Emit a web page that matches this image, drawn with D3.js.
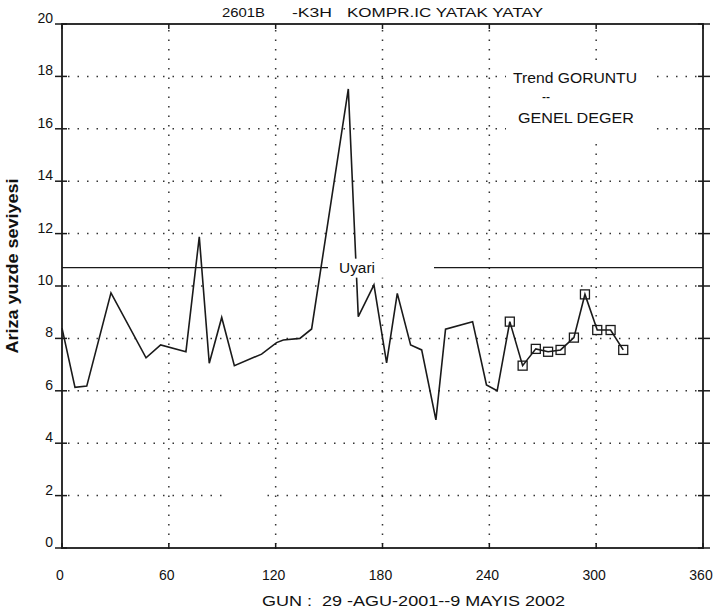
<!DOCTYPE html>
<html>
  <head>
    <title>Trend GORUNTU</title>
    <script src="https://d3js.org/d3.v7.min.js"></script>
    <style>
      body { margin: 0; background: #fff; }
      text { font-family: "Liberation Sans", Arial, sans-serif; fill: #111; }
    </style>
  </head>

  <body>
    <svg width="715" height="611"></svg>

    <script type="text/javascript">
      // measured values (gun, yuzde)
      var days = [0, 7.3, 13.9, 27.5, 47.2, 55.4, 69.6, 77.1, 82.7, 89.7, 96.8,
        112.1, 120.5, 124.3, 133.6, 140.2, 160.8, 166.4, 175.2, 182.3, 188.3,
        195.8, 202, 210, 215.4, 230.6, 238.4, 244.4,
        251.5, 258.7, 266.1, 273, 280, 287.5, 293.7, 300.6, 308.1, 315.2];
      var values = [8.39, 6.13, 6.18, 9.74, 7.26, 7.75, 7.49, 11.88, 7.05, 8.8, 6.96,
        7.4, 7.84, 7.94, 8.0, 8.36, 17.52, 8.83, 10.04, 7.07, 9.72,
        7.75, 7.56, 4.89, 8.35, 8.64, 6.22, 6.0,
        8.64, 6.96, 7.6, 7.49, 7.56, 8.03, 9.68, 8.32, 8.32, 7.56];
      var markerFrom = 28; // last points drawn with squares
      var warningLevel = 10.7;
      var xTicks = [0, 60, 120, 180, 240, 300, 360];
      var yTicks = [0, 2, 4, 6, 8, 10, 12, 14, 16, 18, 20];
      var titleParts = ["2601B", "-K3H", "KOMPR.IC YATAK YATAY"];
      var xTitle = "GUN :  29 -AGU-2001--9 MAYIS 2002";
      var yTitle = "Ariza yuzde seviyesi";
      var trendLines = ["Trend GORUNTU", "--", "GENEL DEGER"];

      var svg = d3.select("svg");
      var x = d3.scaleLinear().domain([0, 360]).range([62, 703]);
      var y = d3.scaleLinear().domain([0, 20]).range([548, 24]);
      var ink = "#1a1a1a";

      // dotted grid
      var grid = svg.append("g").attr("stroke", "#333").attr("stroke-width", 1.5)
        .attr("stroke-dasharray", "1.5,8");
      grid.selectAll(".gy").data(yTicks.slice(1, -1)).enter().append("line")
        .attr("x1", x(0) + 6).attr("x2", x(360) - 4)
        .attr("y1", function (d) { return y(d); })
        .attr("y2", function (d) { return y(d); });
      grid.selectAll(".gx").data(xTicks.slice(1, -1)).enter().append("line")
        .attr("y1", y(20) + 6).attr("y2", y(0) - 4)
        .attr("x1", function (d) { return x(d); })
        .attr("x2", function (d) { return x(d); });

      // empty label box that blanks part of the 2-line
      svg.append("rect").attr("fill", "#fff")
        .attr("x", x(92.5)).attr("width", x(113) - x(92.5))
        .attr("y", y(2.3)).attr("height", y(1.7) - y(2.3));

      // warning line
      svg.append("line").attr("stroke", ink).attr("stroke-width", 1.4)
        .attr("x1", x(0)).attr("x2", x(360))
        .attr("y1", y(warningLevel)).attr("y2", y(warningLevel));

      // data line
      var line = d3.line()
        .x(function (d, i) { return x(days[i]); })
        .y(function (d) { return y(d); });
      svg.append("path").attr("fill", "none").attr("stroke", ink)
        .attr("stroke-width", 1.6).attr("stroke-linejoin", "miter")
        .attr("d", line(values));

      // square markers
      var marks = d3.range(markerFrom, values.length);
      svg.selectAll(".mk").data(marks).enter().append("rect")
        .attr("fill", "none").attr("stroke", ink).attr("stroke-width", 1.3)
        .attr("x", function (i) { return x(days[i]) - 4.5; })
        .attr("y", function (i) { return y(values[i]) - 4.5; })
        .attr("width", 9).attr("height", 9);

      // Uyari label box (covers line)
      var uy = y(warningLevel);
      svg.append("rect").attr("fill", "#fff")
        .attr("x", 328).attr("y", uy - 9).attr("width", 106).attr("height", 19);
      svg.append("text").attr("x", 339).attr("y", uy + 5.5)
        .attr("font-size", 14).attr("textLength", 36).attr("lengthAdjust", "spacingAndGlyphs")
        .text("Uyari");

      // Trend label box
      svg.append("rect").attr("fill", "#fff")
        .attr("x", 506).attr("y", 66).attr("width", 149).attr("height", 71);
      var trendX = [513, 542, 518], trendY = [83, 102, 123], trendW = [124, 8, 116];
      svg.selectAll(".tr").data(trendLines).enter().append("text")
        .attr("x", function (d, i) { return trendX[i]; })
        .attr("y", function (d, i) { return trendY[i]; })
        .attr("font-size", 14)
        .attr("textLength", function (d, i) { return trendW[i]; })
        .attr("lengthAdjust", "spacingAndGlyphs")
        .text(function (d) { return d; });

      // frame
      svg.append("rect").attr("fill", "none").attr("stroke", ink).attr("stroke-width", 1.8)
        .attr("x", x(0)).attr("y", y(20))
        .attr("width", x(360) - x(0)).attr("height", y(0) - y(20));

      // tick marks
      var tk = svg.append("g").attr("stroke", ink).attr("stroke-width", 1.5);
      yTicks.forEach(function (v) {
        tk.append("line").attr("x1", x(0) - 7).attr("x2", x(0) + 5)
          .attr("y1", y(v)).attr("y2", y(v));
        tk.append("line").attr("x1", x(360) - 5).attr("x2", x(360) + 7)
          .attr("y1", y(v)).attr("y2", y(v));
      });
      xTicks.forEach(function (v) {
        tk.append("line").attr("x1", x(v)).attr("x2", x(v))
          .attr("y1", y(0) - 5).attr("y2", y(0) + 1);
        tk.append("line").attr("x1", x(v)).attr("x2", x(v))
          .attr("y1", y(20)).attr("y2", y(20) + 5);
      });

      // tick labels
      svg.selectAll(".yl").data(yTicks).enter().append("text")
        .attr("x", 53).attr("y", function (d) { return y(d) - 1; })
        .attr("text-anchor", "end").attr("font-size", 14)
        .text(function (d) { return d; });
      svg.selectAll(".xl").data(xTicks).enter().append("text")
        .attr("x", function (d) { return x(d) - 2; }).attr("y", 580)
        .attr("text-anchor", "middle").attr("font-size", 14)
        .text(function (d) { return d; });

      // titles
      var titleX = [222, 292, 347], titleW = [43, 40, 196];
      svg.selectAll(".tt").data(titleParts).enter().append("text")
        .attr("x", function (d, i) { return titleX[i]; }).attr("y", 17)
        .attr("font-size", 12.5)
        .attr("textLength", function (d, i) { return titleW[i]; })
        .attr("lengthAdjust", "spacingAndGlyphs")
        .text(function (d) { return d; });
      svg.append("text").attr("x", 262).attr("y", 606)
        .attr("font-size", 15.5).style("white-space", "pre")
        .attr("textLength", 303).attr("lengthAdjust", "spacingAndGlyphs")
        .text(xTitle);
      svg.append("text").attr("transform", "translate(18,266) rotate(-90)")
        .attr("text-anchor", "middle").attr("font-size", 16).attr("font-weight", "bold")
        .attr("textLength", 175).attr("lengthAdjust", "spacingAndGlyphs")
        .text(yTitle);
    </script>
  </body>
</html>
